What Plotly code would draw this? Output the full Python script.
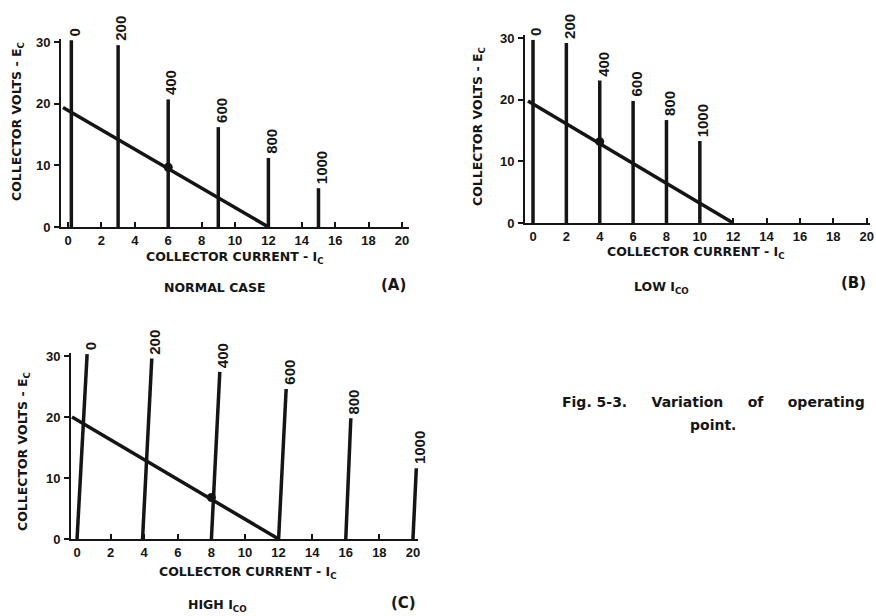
import plotly.graph_objects as go

W, H = 876, 616

# ---- data ----
curve_labels = ["0", "200", "400", "600", "800", "1000"]

# (A) normal case: vertical collector curves
a_x_base = [0.2, 3.0, 6.0, 9.0, 12.0, 15.0]
a_x_top = [0.2, 3.0, 6.0, 9.0, 12.0, 15.0]
a_y_top = [30.3, 29.5, 20.7, 16.2, 11.2, 6.3]
a_load_x = [-0.3, 12.0]
a_load_y = [19.4, 0.0]
a_op = (6.0, 9.7)

# (B) low Ico
b_x_base = [0.0, 2.0, 4.0, 6.0, 8.0, 10.0]
b_x_top = [0.0, 2.0, 4.0, 6.0, 8.0, 10.0]
b_y_top = [29.7, 29.2, 23.1, 19.8, 16.7, 13.3]
b_load_x = [-0.3, 12.0]
b_load_y = [19.8, 0.0]
b_op = (4.0, 13.2)

# (C) high Ico: slanted curves
c_x_base = [0.0, 3.9, 8.0, 12.0, 16.0, 20.0]
c_x_top = [0.6, 4.45, 8.5, 12.45, 16.3, 20.2]
c_y_top = [30.3, 29.6, 27.4, 24.6, 19.8, 11.6]
c_load_x = [-0.3, 12.0]
c_load_y = [20.0, 0.0]
c_op = (8.0, 6.8)

x_ticks = list(range(0, 21, 2))
y_ticks = [0, 10, 20, 30]

INK = "#151515"
FONT = "Liberation Sans"
TFONT = "DejaVu Sans"

fig = go.Figure()

panels = [
    # suffix, data..., pixel box (left, right, bottom, top), x range,
    # x-title centre (px), y-title centre (px)
    ("", a_x_base, a_x_top, a_y_top, a_load_x, a_load_y, a_op,
     (61, 409, 227, 39), [-0.42, 20.42], (235, 258), (18, 122)),
    ("2", b_x_base, b_x_top, b_y_top, b_load_x, b_load_y, b_op,
     (525, 870, 223, 35), [-0.48, 20.2], (696, 252), (478, 127)),
    ("3", c_x_base, c_x_top, c_y_top, c_load_x, c_load_y, c_op,
     (71, 418, 539, 353), [-0.36, 20.3], (248, 572), (23, 452)),
]


def px(x, y):
    return x / W, 1 - y / H


annotations = []
for sfx, xb, xt, yt, lx, ly, op, box, xr, xtc, ytc in panels:
    xa, ya = "x" + sfx, "y" + sfx
    for i in range(len(xb)):
        fig.add_trace(go.Scatter(
            x=[xb[i], xt[i]], y=[0, yt[i]], mode="lines",
            line=dict(color=INK, width=3.5), xaxis=xa, yaxis=ya,
            showlegend=False, hoverinfo="skip"))
        annotations.append(dict(
            x=xt[i], y=yt[i], xref=xa, yref=ya, text="<b>%s</b>" % curve_labels[i],
            textangle=-90, showarrow=False, xanchor="center", yanchor="bottom",
            yshift=2, xshift=3, font=dict(family=FONT, size=15, color=INK)))
    fig.add_trace(go.Scatter(
        x=lx, y=ly, mode="lines", line=dict(color=INK, width=3.5),
        xaxis=xa, yaxis=ya, showlegend=False, hoverinfo="skip"))
    fig.add_trace(go.Scatter(
        x=[op[0]], y=[op[1]], mode="markers",
        marker=dict(color=INK, size=9), xaxis=xa, yaxis=ya,
        showlegend=False, hoverinfo="skip"))

    left, right, bottom, top = box
    axis_common = dict(
        showline=True, linecolor=INK, linewidth=2,
        ticklen=5, tickwidth=2, tickcolor=INK, showgrid=False, zeroline=False,
        automargin=False,
        tickfont=dict(family=FONT, size=13, color=INK, weight="bold"))
    fig.update_layout(**{
        "xaxis" + sfx: dict(
            domain=[left / W, right / W], range=xr, anchor=ya, ticks="inside",
            tickvals=x_ticks, **axis_common),
        "yaxis" + sfx: dict(
            domain=[1 - bottom / H, 1 - top / H], range=[0, 30.5], anchor=xa,
            ticks="outside", tickvals=y_ticks, ticklabelstandoff=1,
            **axis_common),
    })

    x0, y0 = px(*xtc)
    annotations.append(dict(
        x=x0, y=y0, xref="paper", yref="paper", showarrow=False,
        xanchor="center", yanchor="middle",
        text="<b>COLLECTOR CURRENT - I<sub>C</sub></b>",
        font=dict(family=TFONT, size=12.5, color=INK)))
    x0, y0 = px(*ytc)
    annotations.append(dict(
        x=x0, y=y0, xref="paper", yref="paper", showarrow=False,
        xanchor="center", yanchor="middle",
        textangle=-90, text="<b>COLLECTOR VOLTS - E<sub>C</sub></b>",
        font=dict(family=TFONT, size=12.5, color=INK)))

# panel captions
sp = "&nbsp;" * 5
captions = [
    ("NORMAL CASE", 215, 288, 12.5),
    ("(A)", 393, 285, 15),
    ("LOW I<sub>CO</sub>", 661, 288, 12.5),
    ("(B)", 853, 283, 15),
    ("HIGH I<sub>CO</sub>", 217, 605, 12.5),
    ("(C)", 403, 603, 15),
    ("Fig.&nbsp;5-3." + sp + "Variation" + sp + "of" + sp + "operating", 713, 402, 14),
    ("point.", 713, 425, 14),
]
for txt, cx, cy, sz in captions:
    x0, y0 = px(cx, cy)
    annotations.append(dict(
        x=x0, y=y0, xref="paper", yref="paper",
        xanchor="center", yanchor="middle",
        text="<b>%s</b>" % txt, showarrow=False,
        font=dict(family=TFONT, size=sz, color=INK)))

fig.update_layout(
    width=W, height=H, margin=dict(l=0, r=0, t=0, b=0),
    paper_bgcolor="white", plot_bgcolor="white",
    annotations=annotations, showlegend=False)

# drop the browser's default body margin so the figure fills the window
fig.write_html("out.html", config={"displayModeBar": False},
               post_script="document.body.style.margin='0';")
